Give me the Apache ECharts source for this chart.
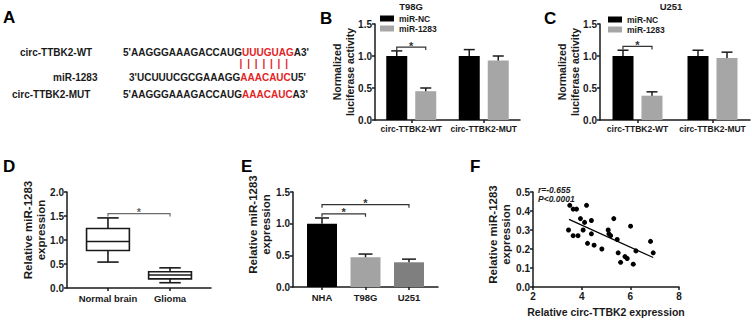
<!DOCTYPE html>
<html>
<head>
<meta charset="utf-8">
<script src="https://cdn.jsdelivr.net/npm/echarts@6/dist/echarts.min.js"></script>
<style>
html, body { margin: 0; padding: 0; background: #fff; }
#chart { width: 752px; height: 320px; }
</style>
</head>
<body>
<div id="chart"></div>
<script>
// B / C: luciferase reporter
const lucCategories = ['circ-TTBK2-WT', 'circ-TTBK2-MUT'];
const lucNames = ['miR-NC', 'miR-1283'];
const t98gNC = [1.0, 1.0];
const t98gNCErr = [1.08, 1.10];
const t98g1283 = [0.45, 0.93];
const t98g1283Err = [0.50, 1.0];
const u251NC = [1.0, 1.0];
const u251NCErr = [1.09, 1.09];
const u2511283 = [0.38, 0.97];
const u2511283Err = [0.44, 1.06];
const t98gSig = [[0, 0, 1.14]];
const u251Sig = [[0, 0, 1.15]];

// D: tissue box plot  [min, q1, median, q3, max]
const tissueCategories = ['Normal brain', 'Glioma'];
const normalBox = [0.54, 0.78, 0.97, 1.24, 1.46];
const gliomaBox = [0.11, 0.19, 0.27, 0.34, 0.42];
const tissueSig = [[0, 1, 1.55]];

// E: cell lines
const cellCategories = ['NHA', 'T98G', 'U251'];
const cellMeans = [1.0, 0.47, 0.39];
const cellErr = [1.09, 0.52, 0.44];
const cellColors = ['#000000', '#a3a3a3', '#7f7f7f'];
const cellSig = [[0, 2, 1.30], [0, 1, 1.155]];

// F: correlation
const circX = [3.51, 3.65, 3.79, 4.20, 3.46, 3.65, 3.85, 3.95, 4.12, 4.06, 4.40, 4.40, 4.24, 4.51, 4.83,
  5.09, 5.12, 5.19, 5.32, 5.46, 5.50, 5.60, 5.78, 5.87, 6.01, 6.12, 6.23, 6.83, 6.94];
const mirY = [0.43, 0.41, 0.41, 0.43, 0.30, 0.27, 0.27, 0.36, 0.34, 0.30, 0.35, 0.28, 0.23, 0.22, 0.20,
  0.30, 0.28, 0.27, 0.36, 0.25, 0.18, 0.13, 0.16, 0.15, 0.32, 0.12, 0.19, 0.24, 0.18];
const fitX = [3.48, 6.94];
const fitY = [0.356, 0.155];

const FONT = 'Liberation Sans';
const INK = '#1a1a1a';
const RED = '#e3241f';

let myChart = echarts.init(document.getElementById('chart'), null, { renderer: 'svg' });

function yAxisOf(gridIndex, max, interval, name, nameGap, nameSize, namePad) {
  return {
    type: 'value', gridIndex: gridIndex, min: 0, max: max, interval: interval,
    name: name, nameLocation: 'middle', nameGap: nameGap, nameRotate: 90, nameMoveOverlap: false,
    nameTextStyle: { fontSize: nameSize, fontWeight: 'bold', color: INK, lineHeight: nameSize + 2, padding: namePad || 0 },
    axisLine: { show: true, onZero: false, lineStyle: { color: INK, width: 1.5 } },
    axisTick: { show: true, length: 3, lineStyle: { color: INK, width: 1.5 } },
    axisLabel: { fontSize: 10, fontWeight: 'bold', color: INK, margin: 3, formatter: v => v.toFixed(1) },
    splitLine: { show: false }
  };
}

function catAxisOf(gridIndex, data) {
  return {
    type: 'category', gridIndex: gridIndex, data: data,
    axisLine: { show: true, onZero: false, lineStyle: { color: INK, width: 1.5 } },
    axisTick: { show: true, alignWithLabel: true, length: 3, lineStyle: { color: INK, width: 1.5 } },
    axisLabel: { fontSize: 8.5, fontWeight: 'bold', color: INK, margin: 4, interval: 0, hideOverlap: false },
    splitLine: { show: false }
  };
}

// value axis that only shows ticks at the categories (Prism-like spacing)
function spacedAxisOf(gridIndex, names, min, max) {
  const at = names.map((n, i) => i);
  return {
    type: 'value', gridIndex: gridIndex, min: min, max: max,
    axisLine: { show: true, onZero: false, lineStyle: { color: INK, width: 1.5 } },
    axisTick: { show: true, length: 3, customValues: at, lineStyle: { color: INK, width: 1.5 } },
    axisLabel: { fontSize: 9.5, fontWeight: 'bold', color: INK, margin: 5, customValues: at,
      formatter: v => names[Math.round(v)] },
    splitLine: { show: false }
  };
}

function errRender(offset, cap) {
  return function (params, api) {
    const top = api.coord([api.value(0), api.value(1)]);
    const end = api.coord([api.value(0), api.value(2)]);
    const x = top[0] + offset;
    const st = { stroke: INK, lineWidth: 1.5 };
    return {
      type: 'group',
      children: [
        { type: 'line', shape: { x1: x, y1: top[1], x2: x, y2: end[1] }, style: st },
        { type: 'line', shape: { x1: x - cap / 2, y1: end[1], x2: x + cap / 2, y2: end[1] }, style: st }
      ]
    };
  };
}

function bracketRender(color, leftOff, rightOff) {
  return function (params, api) {
    const a = api.coord([api.value(0), api.value(2)]);
    const b = api.coord([api.value(1), api.value(2)]);
    const x1 = a[0] + leftOff, x2 = b[0] + rightOff, y = a[1];
    const st = { stroke: color, lineWidth: 1.2, fill: null };
    return {
      type: 'group',
      children: [
        { type: 'polyline', shape: { points: [[x1, y + 3], [x1, y], [x2, y], [x2, y + 3]] }, style: st },
        { type: 'text', x: (x1 + x2) / 2, y: y - 1.5,
          style: { text: '*', fill: color, fontSize: 11, fontWeight: 'bold', fontFamily: FONT,
            align: 'center', verticalAlign: 'middle', textAlign: 'center', textVerticalAlign: 'middle' } }
      ]
    };
  };
}

function boxRender(params, api) {
  const xv = api.value(0);
  const w = api.size([0.69, 0])[0];
  const cap = w * 0.5;
  const p = [1, 2, 3, 4, 5].map(d => api.coord([xv, api.value(d)]));
  const cx = p[0][0];
  const st = { stroke: INK, lineWidth: 1.6, fill: null };
  return {
    type: 'group',
    children: [
      { type: 'rect', shape: { x: cx - w / 2, y: p[3][1], width: w, height: p[1][1] - p[3][1] },
        style: { stroke: INK, lineWidth: 1.6, fill: '#fff' } },
      { type: 'line', shape: { x1: cx - w / 2, y1: p[2][1], x2: cx + w / 2, y2: p[2][1] }, style: st },
      { type: 'line', shape: { x1: cx, y1: p[3][1], x2: cx, y2: p[4][1] }, style: st },
      { type: 'line', shape: { x1: cx, y1: p[1][1], x2: cx, y2: p[0][1] }, style: st },
      { type: 'line', shape: { x1: cx - cap / 2, y1: p[4][1], x2: cx + cap / 2, y2: p[4][1] }, style: st },
      { type: 'line', shape: { x1: cx - cap / 2, y1: p[0][1], x2: cx + cap / 2, y2: p[0][1] }, style: st }
    ]
  };
}

function letter(t, x, y) {
  return { type: 'text', x: x, y: y, style: { text: t, fill: '#000', fontSize: 17, fontWeight: 'bold', fontFamily: FONT, verticalAlign: 'middle' } };
}
function seqText(x, y, parts) {
  return {
    type: 'text', x: x, y: y,
    style: {
      text: '{k|' + parts[0] + '}{r|' + parts[1] + '}{k|' + parts[2] + '}',
      verticalAlign: 'middle',
      rich: {
        k: { fill: INK, fontSize: 10, fontWeight: 'bold', fontFamily: FONT },
        r: { fill: RED, fontSize: 10, fontWeight: 'bold', fontFamily: FONT }
      }
    }
  };
}
function label(t, x, y, size, extra) {
  return { type: 'text', x: x, y: y, style: Object.assign({ text: t, fill: INK, fontSize: size, fontWeight: 'bold', fontFamily: FONT, verticalAlign: 'middle' }, extra || {}) };
}

const pairLines = [];
for (let i = 0; i < 7; i++) {
  pairLines.push(label('|', 241 + i * 7.6, 63, 10, { fill: RED, align: 'center' }));
}

const legendCommon = {
  orient: 'vertical', itemWidth: 14, itemHeight: 6, itemGap: 1, padding: 0, icon: 'rect',
  data: lucNames, selectedMode: false,
  textStyle: { fontSize: 8.5, fontWeight: 'bold', color: INK, fontFamily: FONT }
};

const option = {
  animation: false,
  textStyle: { fontFamily: FONT, fontWeight: 'bold', color: INK },
  legend: [
    Object.assign({ left: 380, top: 14 }, legendCommon),
    Object.assign({ left: 608, top: 15 }, legendCommon)
  ],
  grid: [
    { left: 375, top: 24, width: 145, height: 96, outerBoundsMode: 'none' },
    { left: 600, top: 24, width: 150, height: 96, outerBoundsMode: 'none' },
    { left: 67, top: 192, width: 144, height: 96, outerBoundsMode: 'none' },
    { left: 293, top: 192, width: 145, height: 95, outerBoundsMode: 'none' },
    { left: 533, top: 192, width: 146, height: 95, outerBoundsMode: 'none' }
  ],
  xAxis: [
    catAxisOf(0, lucCategories),
    catAxisOf(1, lucCategories),
    spacedAxisOf(2, tissueCategories, -0.66, 1.66),
    spacedAxisOf(3, cellCategories, -0.667, 2.667),
    {
      type: 'value', gridIndex: 4, min: 2, max: 8, interval: 2,
      name: 'Relative circ-TTBK2 expression', nameLocation: 'middle', nameGap: 19, nameMoveOverlap: false,
      nameTextStyle: { fontSize: 10.5, fontWeight: 'bold', color: INK },
      axisLine: { show: true, onZero: false, lineStyle: { color: INK, width: 1.5 } },
      axisTick: { show: true, length: 3, lineStyle: { color: INK, width: 1.5 } },
      axisLabel: { fontSize: 10, fontWeight: 'bold', color: INK, margin: 4 },
      splitLine: { show: false }
    }
  ],
  yAxis: [
    yAxisOf(0, 1.5, 0.5, 'Normalized\nluciferase activity', 19, 10.5),
    yAxisOf(1, 1.5, 0.5, 'Normalized\nluciferase activity', 19, 10.5),
    yAxisOf(2, 2.0, 0.5, 'Relative miR-1283\nexpression', 19, 11.5, [0, 0, 0, 20]),
    yAxisOf(3, 1.5, 0.5, 'Relative miR-1283\nexpression', 20, 11.5, [0, 0, 0, 30]),
    yAxisOf(4, 0.5, 0.1, 'Relative miR-1283\nexpression', 20, 11.5, [0, 0, 0, 10])
  ],
  graphic: [
    letter('A', 3, 17), letter('B', 320, 18), letter('C', 544, 18),
    letter('D', 3, 166), letter('E', 241, 166), letter('F', 470, 166),
    label('T98G', 411, 6, 9.5, { align: 'center' }),
    label('U251', 671, 6, 9.5, { align: 'center' }),
    label('circ-TTBK2-WT', 20, 52, 10),
    label('miR-1283', 53, 77, 10),
    label('circ-TTBK2-MUT', 12, 94, 10),
    seqText(123, 52, ["5'AAGGGAAAGACCAUG", 'UUUGUAG', "A3'"]),
    seqText(129, 77, ["3'UCUUUCGCGAAAGG", 'AAACAUC', "U5'"]),
    seqText(123, 94, ["5'AAGGGAAAGACCAUG", 'AAACAUC', "A3'"]),
    label('r=-0.655', 538, 190, 8.5, { fontStyle: 'italic' }),
    label('P<0.0001', 538, 199, 8.5, { fontStyle: 'italic' })
  ].concat(pairLines),
  series: [
    { name: lucNames[0], type: 'bar', xAxisIndex: 0, yAxisIndex: 0, data: t98gNC, barWidth: 21, barGap: '38%', itemStyle: { color: '#000' } },
    { name: lucNames[1], type: 'bar', xAxisIndex: 0, yAxisIndex: 0, data: t98g1283, barWidth: 21, barGap: '38%', itemStyle: { color: '#a6a6a6' } },
    { name: lucNames[0], type: 'bar', xAxisIndex: 1, yAxisIndex: 1, data: u251NC, barWidth: 21, barGap: '38%', itemStyle: { color: '#000' } },
    { name: lucNames[1], type: 'bar', xAxisIndex: 1, yAxisIndex: 1, data: u2511283, barWidth: 21, barGap: '38%', itemStyle: { color: '#a6a6a6' } },
    { type: 'custom', xAxisIndex: 0, yAxisIndex: 0, renderItem: errRender(-14.5, 11), data: t98gNC.map((v, i) => [i, v, t98gNCErr[i]]), z: 5 },
    { type: 'custom', xAxisIndex: 0, yAxisIndex: 0, renderItem: errRender(14.5, 11), data: t98g1283.map((v, i) => [i, v, t98g1283Err[i]]), z: 5 },
    { type: 'custom', xAxisIndex: 1, yAxisIndex: 1, renderItem: errRender(-14.5, 11), data: u251NC.map((v, i) => [i, v, u251NCErr[i]]), z: 5 },
    { type: 'custom', xAxisIndex: 1, yAxisIndex: 1, renderItem: errRender(14.5, 11), data: u2511283.map((v, i) => [i, v, u2511283Err[i]]), z: 5 },
    { type: 'custom', xAxisIndex: 0, yAxisIndex: 0, renderItem: bracketRender('#333', -14.5, 14.5), data: t98gSig, encode: { x: [0, 1], y: 2 }, z: 5 },
    { type: 'custom', xAxisIndex: 1, yAxisIndex: 1, renderItem: bracketRender('#333', -14.5, 14.5), data: u251Sig, encode: { x: [0, 1], y: 2 }, z: 5 },
    { type: 'custom', xAxisIndex: 2, yAxisIndex: 2, renderItem: boxRender,
      data: [[0].concat(normalBox), [1].concat(gliomaBox)], encode: { x: 0, y: [1, 2, 3, 4, 5] } },
    { type: 'custom', xAxisIndex: 2, yAxisIndex: 2, renderItem: bracketRender('#6b6b6b', 0, 0), data: tissueSig, encode: { x: [0, 1], y: 2 } },
    { type: 'bar', xAxisIndex: 3, yAxisIndex: 3, barWidth: 30,
      data: cellMeans.map((v, i) => ({ value: [i, v], itemStyle: { color: cellColors[i] } })) },
    { type: 'custom', xAxisIndex: 3, yAxisIndex: 3, renderItem: errRender(0, 14), data: cellMeans.map((v, i) => [i, v, cellErr[i]]), z: 5 },
    { type: 'custom', xAxisIndex: 3, yAxisIndex: 3, renderItem: bracketRender('#333', 0, 0), data: cellSig, encode: { x: [0, 1], y: 2 }, z: 5 },
    { type: 'scatter', xAxisIndex: 4, yAxisIndex: 4, symbolSize: 5, itemStyle: { color: '#000', opacity: 1 },
      data: circX.map((x, i) => [x, mirY[i]]) },
    { type: 'line', xAxisIndex: 4, yAxisIndex: 4, showSymbol: false, lineStyle: { color: '#000', width: 1.2 },
      data: fitX.map((x, i) => [x, fitY[i]]) }
  ]
};

myChart.setOption(option);
window.addEventListener('resize', () => myChart.resize());
</script>
</body>
</html>
